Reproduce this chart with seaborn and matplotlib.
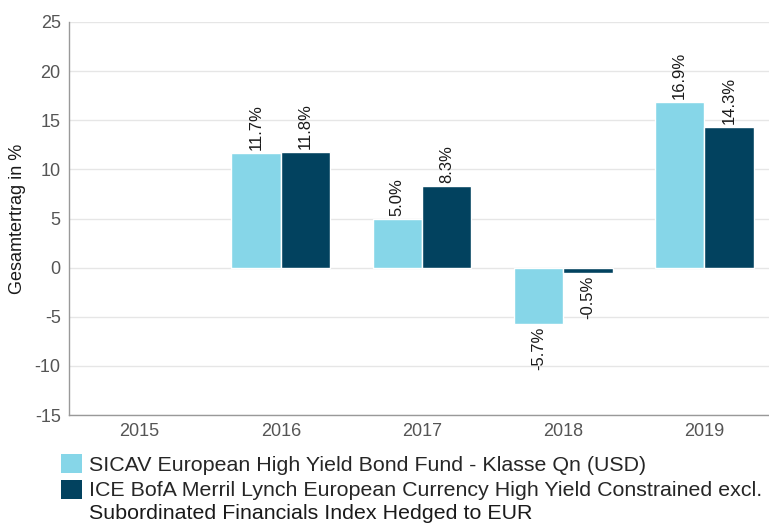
"""Recreates the calendar-year total return bar chart (fund vs. index)."""

import matplotlib

matplotlib.use("Agg")
import matplotlib.pyplot as plt
import pandas as pd
import seaborn as sns

years = ["2015", "2016", "2017", "2018", "2019"]
fund_name = "SICAV European High Yield Bond Fund - Klasse Qn (USD)"
index_name = "ICE BofA Merril Lynch European Currency High Yield Constrained excl."
index_name_cont = "Subordinated Financials Index Hedged to EUR"
fund_values = [None, 11.7, 5.0, -5.7, 16.9]
index_values = [None, 11.8, 8.3, -0.5, 14.3]
y_ticks = [-15, -10, -5, 0, 5, 10, 15, 20, 25]

LIGHT = "#86d6e8"
DARK = "#02425f"

frame = pd.DataFrame(
    {
        "year": years * 2,
        "series": [fund_name] * len(years) + [index_name] * len(years),
        "value": fund_values + index_values,
    }
).dropna()

sns.set_theme(style="white")
plt.rcParams["font.family"] = ["Liberation Sans", "DejaVu Sans"]

fig = plt.figure(figsize=(7.69, 5.23), dpi=100)
ax = fig.add_axes([69 / 769, 1 - 415 / 523, 706 / 769, 393 / 523])

sns.barplot(
    data=frame,
    x="year",
    y="value",
    hue="series",
    order=years,
    hue_order=[fund_name, index_name],
    palette=[LIGHT, DARK],
    saturation=1,
    width=0.7,
    edgecolor="white",
    linewidth=1,
    ax=ax,
    legend=False,
)

for container in ax.containers:
    for bar in container:
        h = bar.get_height()
        if pd.isna(h):
            continue
        x = bar.get_x() + bar.get_width() / 2
        ax.annotate(
            f"{h:.1f}%",
            (x, h),
            xytext=(0, 2 if h >= 0 else -2),
            textcoords="offset points",
            rotation=90,
            ha="center",
            va="bottom" if h >= 0 else "top",
            fontsize=12,
            color="#1a1a1a",
        )

ax.set_ylim(-15, 25)
ax.set_yticks(y_ticks)
ax.set_yticklabels([str(t) for t in y_ticks])
ax.grid(axis="y", color="#e6e6e6", linewidth=1)
ax.set_axisbelow(True)
ax.tick_params(axis="both", length=0, labelsize=13, labelcolor="#555555", pad=6)
ax.set_xlabel("")
ax.set_ylabel("Gesamtertrag in %", fontsize=13, color="#1a1a1a", labelpad=6)
for side in ["top", "right"]:
    ax.spines[side].set_visible(False)
for side in ["left", "bottom"]:
    ax.spines[side].set_color("#999999")
    ax.spines[side].set_linewidth(1)

handles = [
    plt.Rectangle((0, 0), 1, 1, facecolor=LIGHT, edgecolor="none"),
    plt.Rectangle((0, 0), 1, 1, facecolor=DARK, edgecolor="none"),
]
fig.legend(
    handles,
    [fund_name, index_name],
    loc="upper left",
    bbox_to_anchor=(61 / 769, 1 - 454 / 523),
    frameon=False,
    fontsize=15.4,
    handlelength=1.0,
    handleheight=1.0,
    handletextpad=0.33,
    labelspacing=0.22,
    borderaxespad=0,
    borderpad=0,
)
fig.text(89 / 769, 1 - 519 / 523, index_name_cont, fontsize=15.4, va="baseline", ha="left", color="#1a1a1a")

fig.savefig("out.png", dpi=100)
plt.close(fig)
